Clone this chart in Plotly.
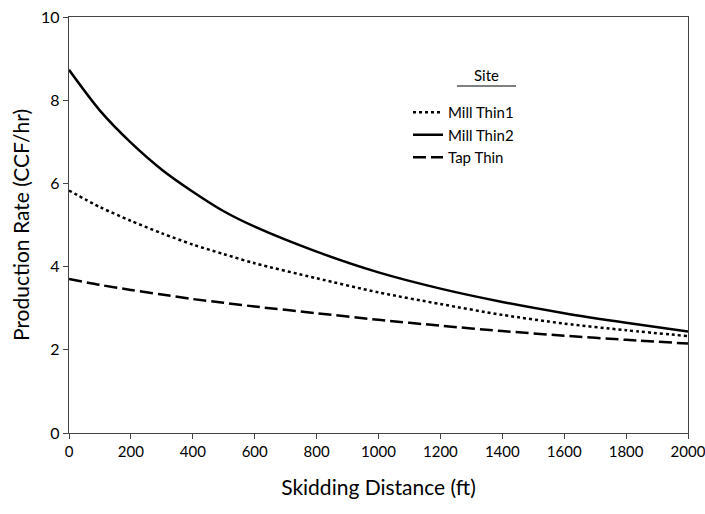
import plotly.graph_objects as go

# Skidding distance (ft) and predicted production rate (CCF/hr) per site
distance = [0, 100, 200, 300, 400, 500, 600, 800, 1000, 1200, 1400, 1600, 1800, 2000]
mill_thin1 = [5.83, 5.43, 5.10, 4.80, 4.53, 4.30, 4.08, 3.72, 3.38, 3.10, 2.84, 2.63, 2.47, 2.33]
mill_thin2 = [8.73, 7.75, 6.98, 6.33, 5.80, 5.33, 4.96, 4.36, 3.86, 3.47, 3.15, 2.88, 2.65, 2.44]
tap_thin = [3.70, 3.56, 3.44, 3.33, 3.22, 3.13, 3.04, 2.88, 2.72, 2.58, 2.45, 2.34, 2.24, 2.15]

x_ticks = list(range(0, 2001, 200))
y_ticks = [0, 2, 4, 6, 8, 10]

FONT = "Lato"

series = [
    ("Mill Thin1", mill_thin1, "3px,3px"),
    ("Mill Thin2", mill_thin2, "solid"),
    ("Tap Thin", tap_thin, "13px,5px"),
]

fig = go.Figure()
for name, values, dash in series:
    fig.add_trace(go.Scatter(
        x=distance, y=values, name=name, mode="lines",
        line=dict(color="black", width=2.5, dash=dash, shape="spline", smoothing=0.8),
    ))

axis_common = dict(
    showgrid=False, zeroline=False, showline=True, mirror=True,
    linecolor="#444", linewidth=1.3, ticks="outside", ticklen=5,
    tickcolor="#444", tickwidth=1.2, automargin=False,
    ticklabeloverflow="allow",
)

fig.update_layout(
    width=705, height=514,
    margin=dict(l=69, r=17, t=17, b=81),
    plot_bgcolor="white", paper_bgcolor="white",
    font=dict(family=FONT, color="black"),
    xaxis=dict(range=[0, 2000], tickvals=x_ticks,
               tickfont=dict(family=FONT, size=15, color="black"),
               title=dict(text="Skidding Distance (ft)", font=dict(family=FONT, size=21), standoff=21),
               **axis_common),
    yaxis=dict(range=[0, 10], tickvals=y_ticks,
               tickfont=dict(family=FONT, size=16, color="black"),
               title=dict(text="Production Rate (CCF/hr)", font=dict(family=FONT, size=21), standoff=5),
               **axis_common),
    legend=dict(
        x=(408 - 69) / 619, y=(433 - 96) / 416, xanchor="left", yanchor="top",
        bgcolor="rgba(0,0,0,0)", borderwidth=0,
        font=dict(family=FONT, size=15, color="black"),
        tracegroupgap=0,
    ),
    showlegend=True,
)

# Legend heading with a rule beneath it
fig.add_annotation(text="Site", xref="paper", yref="paper",
                   x=(486 - 69) / 619, y=(433 - 75) / 416,
                   xanchor="center", yanchor="middle", showarrow=False,
                   font=dict(family=FONT, size=15, color="black"))
fig.add_shape(type="line", xref="paper", yref="paper",
              x0=(457 - 69) / 619, x1=(516 - 69) / 619,
              y0=(433 - 86) / 416, y1=(433 - 86) / 416,
              line=dict(color="black", width=1))

fig.write_html("out.html")
